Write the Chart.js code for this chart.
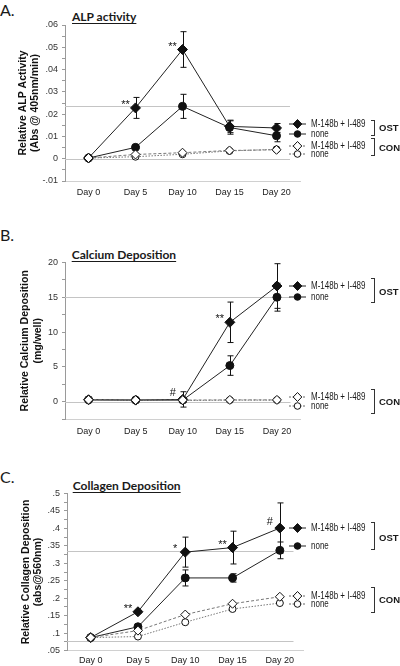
<!DOCTYPE html>
<html><head><meta charset="utf-8">
<script src="https://cdn.jsdelivr.net/npm/chart.js@4.4.1/dist/chart.umd.min.js"></script>
<style>
html,body{margin:0;padding:0;background:#fff;}
#wrap{position:relative;width:400px;height:666px;overflow:hidden;background:#fff;font-family:'Liberation Sans',Arial,sans-serif;color:#1a1a1a;}
canvas{position:absolute;left:0;}
.letter{position:absolute;left:0;font-family:Lato,'Open Sans',sans-serif;font-size:16px;line-height:1;white-space:nowrap;}
.ptitle{position:absolute;font-family:Lato,'Open Sans',sans-serif;font-weight:bold;font-size:12px;line-height:1;white-space:nowrap;text-decoration:underline;text-decoration-thickness:1.3px;text-underline-offset:1.5px;}
.row{position:absolute;left:289px;height:12px;line-height:12px;white-space:nowrap;}
.row span{position:absolute;left:22px;top:0;font-size:10px;transform:scaleX(.8);transform-origin:left center;}
.br{position:absolute;left:371px;width:3px;border:1px solid #333;border-left:none;}
.grp{position:absolute;left:379px;height:12px;line-height:12px;font-weight:bold;font-size:9.5px;}
</style></head>
<body><div id="wrap">
<div class="letter" style="top:2px">A.</div>
<div class="ptitle" style="left:72px;top:11.4px">ALP activity</div>
<canvas id="cA" width="400" height="200" style="top:0"></canvas>
<div class="letter" style="top:227px">B.</div>
<div class="ptitle" style="left:71.7px;top:249.4px">Calcium Deposition</div>
<canvas id="cB" width="400" height="220" style="top:220px"></canvas>
<div class="letter" style="top:468.6px">C.</div>
<div class="ptitle" style="left:72.7px;top:480.1px">Collagen Deposition</div>
<canvas id="cC" width="400" height="226" style="top:440px"></canvas>
</div>
<script>
// ---------- data ----------
const days = ['Day 0','Day 5','Day 10','Day 15','Day 20'];
const seriesNames = ['M-148b + I-489','none','M-148b + I-489','none'];
const groupNames = ['OST','CON'];

// A. ALP activity
const alpOstDrug    = [0.0003, 0.0228, 0.0490, 0.0145, 0.0138];
const alpOstDrugErr = [0, 0.0047, 0.0080, 0.0028, 0.0020];
const alpOstNone    = [0.0003, 0.0051, 0.0235, 0.0140, 0.0103];
const alpOstNoneErr = [0, 0.0004, 0.0054, 0.0030, 0.0027];
const alpConDrug    = [0.0003, 0.0019, 0.0027, 0.0037, 0.0040];
const alpConNone    = [0.0003, 0.0009, 0.0020, 0.0035, 0.0042];
const alpSig        = ['', '**', '**', '', ''];
const alpRef        = [0.0236, 0];

// B. Calcium deposition
const caOstDrug    = [0.3, 0.25, 0.35, 11.4, 16.6];
const caOstDrugErr = [0, 0, 1.1, 2.9, 3.2];
const caOstNone    = [0.3, 0.25, 0.25, 5.2, 15.0];
const caOstNoneErr = [0, 0, 0.3, 1.4, 2.0];
const caConDrug    = [0.3, 0.25, 0.25, 0.28, 0.28];
const caConNone    = [0.25, 0.2, 0.2, 0.25, 0.25];
const caSig        = ['', '', '#', '**', ''];
const caRef        = [15, 0];

// C. Collagen deposition
const colOstDrug    = [0.087, 0.161, 0.332, 0.345, 0.401];
const colOstDrugErr = [0, 0.004, 0.043, 0.047, 0.072];
const colOstNone    = [0.087, 0.118, 0.258, 0.258, 0.337];
const colOstNoneErr = [0, 0.003, 0.023, 0.012, 0.024];
const colConDrug    = [0.087, 0.107, 0.153, 0.184, 0.204];
const colConNone    = [0.087, 0.090, 0.131, 0.169, 0.186];
const colSig        = ['', '**', '*', '**', '#'];
const colRef        = [0.336, 0.077];

// ---------- helpers ----------
const FONT = "'Liberation Sans', Arial, Helvetica, sans-serif";

function fmtDec(v){
  const r = Math.round(v*1000)/1000;
  if (r === 0) return '0';
  return String(r).replace(/^(-?)0\./, '$1.');
}

const extras = {
  id: 'extras',
  beforeDatasetsDraw(chart, args, o){
    const {ctx, chartArea:a, scales:{y}} = chart;
    ctx.save();
    ctx.lineWidth = 1;
    ctx.strokeStyle = '#c4c4c4';
    (o.refLines||[]).forEach(v=>{
      const py = Math.round(y.getPixelForValue(v)) + 0.5;
      ctx.beginPath(); ctx.moveTo(a.left, py); ctx.lineTo(a.right - 10, py); ctx.stroke();
    });
    ctx.strokeStyle = '#111';
    (o.errors||[]).forEach((errs, di)=>{
      if (!errs) return;
      const meta = chart.getDatasetMeta(di), vals = chart.data.datasets[di].data;
      errs.forEach((e, i)=>{
        if (!e) return;
        const px = Math.round(meta.data[i].x) + 0.5;
        const t = y.getPixelForValue(vals[i] + e), b = y.getPixelForValue(vals[i] - e);
        ctx.beginPath();
        ctx.moveTo(px, t); ctx.lineTo(px, b);
        ctx.moveTo(px-3, t); ctx.lineTo(px+3, t);
        ctx.moveTo(px-3, b); ctx.lineTo(px+3, b);
        ctx.stroke();
      });
    });
    ctx.restore();
  },
  afterDatasetsDraw(chart, args, o){
    const s = o.sig; if (!s) return;
    const {ctx} = chart;
    const meta = chart.getDatasetMeta(s.index);
    ctx.save();
    ctx.fillStyle = '#111';
    ctx.font = '11px ' + FONT;
    ctx.textAlign = 'center';
    ctx.textBaseline = 'alphabetic';
    s.labels.forEach((t, i)=>{
      if (!t) return;
      const p = meta.data[i];
      ctx.fillText(t, p.x - 10, p.y - (t === '#' ? 3 : 0));
    });
    ctx.restore();
  }
};

function makeChart(id, cfg){
  const datasets = [
    {label: seriesNames[2]+' CON', data: cfg.conDrug, borderColor:'#777', borderWidth:1, borderDash:[3,2],
     pointStyle:'rectRot', pointRadius:4.5, pointBackgroundColor:'#fff', pointBorderColor:'#111', pointBorderWidth:1},
    {label: seriesNames[3]+' CON', data: cfg.conNone, borderColor:'#777', borderWidth:1, borderDash:[1.5,1.5],
     pointStyle:'circle', pointRadius:3.5, pointBackgroundColor:'#fff', pointBorderColor:'#111', pointBorderWidth:1},
    {label: seriesNames[0]+' OST', data: cfg.ostDrug, borderColor:'#222', borderWidth:1,
     pointStyle:'rectRot', pointRadius:5, pointBackgroundColor:'#111', pointBorderColor:'#111', pointBorderWidth:1},
    {label: seriesNames[1]+' OST', data: cfg.ostNone, borderColor:'#222', borderWidth:1,
     pointStyle:'circle', pointRadius:4, pointBackgroundColor:'#111', pointBorderColor:'#111', pointBorderWidth:1}
  ];
  return new Chart(document.getElementById(id), {
    type: 'line',
    data: {labels: days, datasets},
    plugins: [extras],
    options: {
      responsive: false, animation: false, events: [], devicePixelRatio: 1,
      layout: {padding: {left: 0, top: cfg.padTop, right: cfg.padRight, bottom: 0}},
      elements: {line: {tension: 0}},
      plugins: {
        legend: {display: false}, tooltip: {enabled: false},
        extras: {
          refLines: cfg.ref,
          errors: [null, null, cfg.ostDrugErr, cfg.ostNoneErr],
          sig: {index: 2, labels: cfg.sig}
        }
      },
      scales: {
        x: {
          offset: true,
          afterFit: s => { s.height = cfg.xHeight; },
          grid: {display: false, drawTicks: false, tickLength: 0},
          border: {display: true, color: '#d0d0d0'},
          ticks: {color: '#222', font: {family: FONT, size: 9}, padding: cfg.xPad, maxRotation: 0, autoSkip: false}
        },
        y: {
          min: cfg.min, max: cfg.max,
          afterFit: s => { s.width = cfg.yWidth; },
          grid: {drawOnChartArea: false, drawTicks: true, tickLength: 3, color: '#9a9a9a'},
          border: {display: true, color: '#9a9a9a'},
          ticks: {
            stepSize: cfg.step, autoSkip: false, color: '#333', padding: 4,
            font: {family: FONT, size: 9},
            callback: v => (Math.abs(v/cfg.major - Math.round(v/cfg.major)) < 1e-6) ? fmtDec(v) : ''
          },
          title: {
            display: true, text: cfg.title, color: '#111',
            font: {family: FONT, size: 10.5, weight: 'bold', lineHeight: 1.19},
            padding: {top: cfg.titlePad, bottom: 0}
          }
        }
      }
    }
  });
}

makeChart('cA', {
  ostDrug: alpOstDrug, ostDrugErr: alpOstDrugErr, ostNone: alpOstNone, ostNoneErr: alpOstNoneErr,
  conDrug: alpConDrug, conNone: alpConNone, sig: alpSig, ref: alpRef,
  min: -0.01, max: 0.06, step: 0.005, major: 0.01,
  title: ['Relative ALP Activity', '(Abs @ 405nm/min)'], titlePad: 16.8,
  padTop: 25, padRight: 100, yWidth: 65, xHeight: 19, xPad: 6.5
});
makeChart('cB', {
  ostDrug: caOstDrug, ostDrugErr: caOstDrugErr, ostNone: caOstNone, ostNoneErr: caOstNoneErr,
  conDrug: caConDrug, conNone: caConNone, sig: caSig, ref: caRef,
  min: -2.5, max: 20, step: 2.5, major: 5,
  title: ['Relative Calcium Deposition', '(mg/well)'], titlePad: 19.3,
  padTop: 42.3, padRight: 99.5, yWidth: 65, xHeight: 20.7, xPad: 6.5
});
makeChart('cC', {
  ostDrug: colOstDrug, ostDrugErr: colOstDrugErr, ostNone: colOstNone, ostNoneErr: colOstNoneErr,
  conDrug: colConDrug, conNone: colConNone, sig: colSig, ref: colRef,
  min: 0.05, max: 0.5, step: 0.025, major: 0.05,
  title: ['Relative Collagen Deposition', '(abs@560nm)'], titlePad: 19.5,
  padTop: 53.5, padRight: 96.5, yWidth: 67, xHeight: 15.5, xPad: 5
});

// ---------- legends (HTML) ----------
const legendLayout = [
  {rows: [124, 133.5, 146, 154.3], brackets: [[119.5, 136], [138, 156]], labels: [128.3, 147.5]},
  {rows: [285.7, 297.3, 396.7, 405.7], brackets: [[278, 303], [389, 414]], labels: [291.5, 402]},
  {rows: [527.5, 545.5, 595.5, 604.3], brackets: [[522, 550], [587, 613]], labels: [537.5, 600]}
];
function sym(s){
  const filled = s < 2, diamond = s % 2 === 0;
  const line = filled
    ? '<line x1="0" y1="6" x2="17" y2="6" stroke="#222" stroke-width="1"/>'
    : '<line x1="0" y1="6" x2="17" y2="6" stroke="#666" stroke-width="1" stroke-dasharray="2,1.5"/>';
  const fill = filled ? '#111' : '#fff';
  const m = diamond
    ? `<polygon points="8.5,1.5 12.8,6 8.5,10.5 4.2,6" fill="${fill}" stroke="#111" stroke-width="1"/>`
    : `<circle cx="8.5" cy="6" r="3.3" fill="${fill}" stroke="#111" stroke-width="1"/>`;
  return `<svg width="18" height="12" style="position:absolute;left:0;top:0">${line}${m}</svg>`;
}
const wrap = document.getElementById('wrap');
legendLayout.forEach(L=>{
  L.rows.forEach((y, s)=>{
    const d = document.createElement('div');
    d.className = 'row';
    d.style.top = (y - 6) + 'px';
    d.innerHTML = sym(s) + `<span>${seriesNames[s]}</span>`;
    wrap.appendChild(d);
  });
  L.brackets.forEach(([a, b], g)=>{
    const br = document.createElement('div');
    br.className = 'br';
    br.style.top = a + 'px';
    br.style.height = (b - a - 2) + 'px';
    wrap.appendChild(br);
    const t = document.createElement('div');
    t.className = 'grp';
    t.style.top = (L.labels[g] - 6) + 'px';
    t.textContent = groupNames[g];
    wrap.appendChild(t);
  });
});
</script>
</body></html>
